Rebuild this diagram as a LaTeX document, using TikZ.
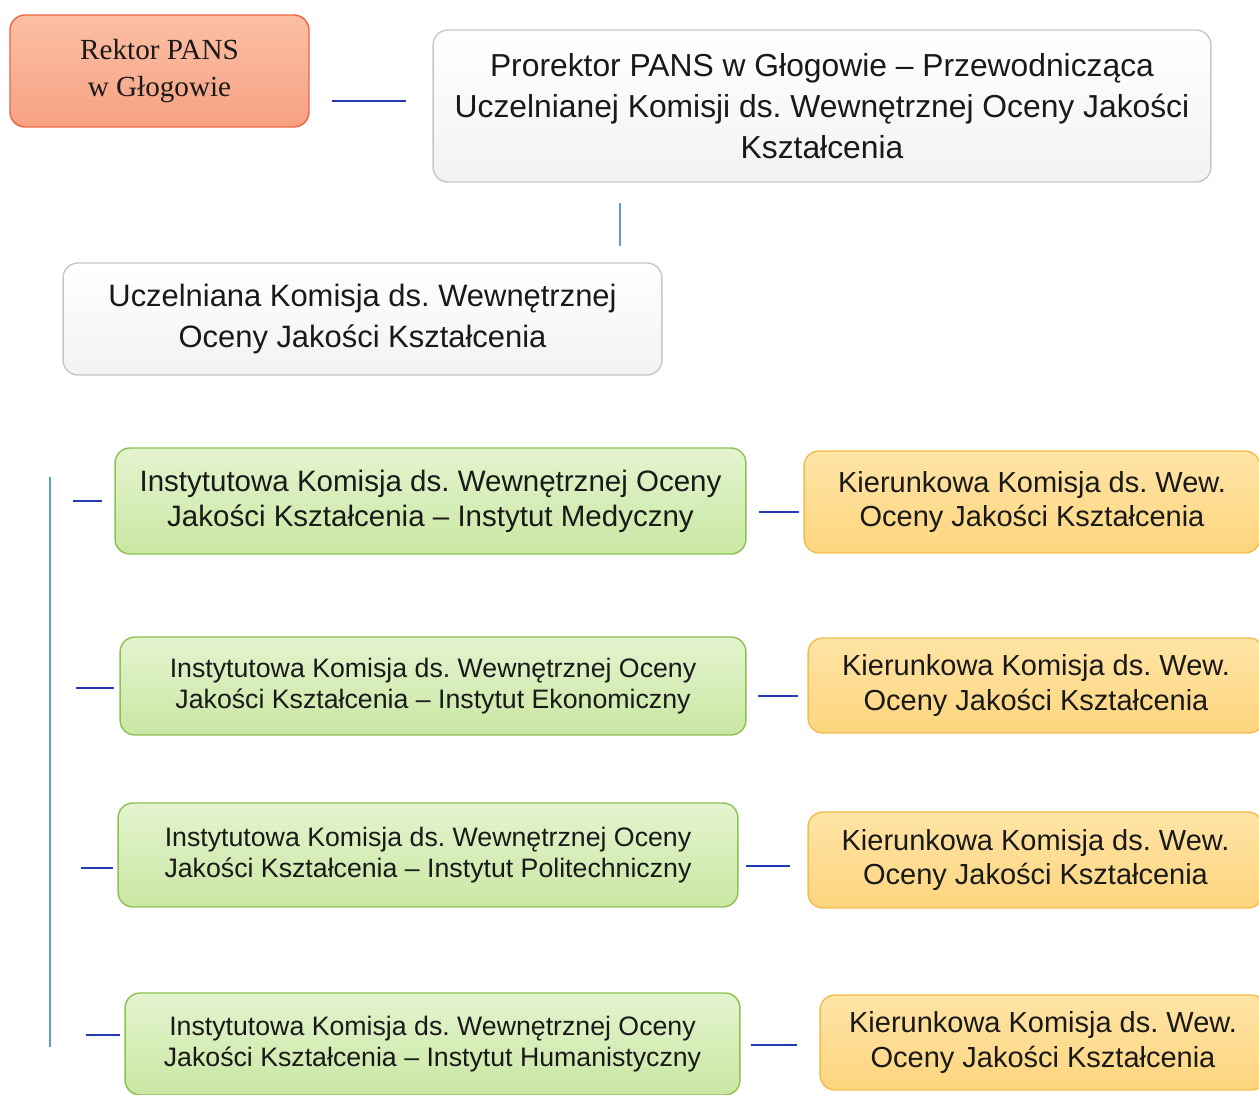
\documentclass[tikz,border=0pt]{standalone}
\usepackage{fontspec}
\setmainfont{Liberation Sans}
\newfontfamily\rektorfont{Liberation Serif}
\frenchspacing
\definecolor{rektorline}{HTML}{E8663F}
\definecolor{rektortop}{HTML}{FBBFA5}
\definecolor{rektorbot}{HTML}{F7A182}
\definecolor{instline}{HTML}{8CC152}
\definecolor{insttop}{HTML}{E4F4CF}
\definecolor{instbot}{HTML}{C9E7A3}
\definecolor{kierline}{HTML}{F4BC4C}
\definecolor{kiertop}{HTML}{FFE4A6}
\definecolor{kierbot}{HTML}{FDD57E}
\definecolor{darkblue}{HTML}{2438B4}
\definecolor{lightblue}{HTML}{5B9BD5}
\begin{document}
\begin{tikzpicture}[x=0.02cm,y=-0.02cm,
    box/.style={draw,rounded corners=0.3cm,line width=0.8pt,align=center,inner sep=0pt,text=black!90},
    graybox/.style={box,draw=black!22,top color=white,bottom color=black!5},
    redbox/.style={box,draw=rektorline,top color=rektortop,bottom color=rektorbot},
    greenbox/.style={box,draw=instline,top color=insttop,bottom color=instbot},
    orangebox/.style={box,draw=kierline,top color=kiertop,bottom color=kierbot},
    bigtext/.style={font={\fontsize{18.1}{23.2}\selectfont}},
    insttext/.style={font={\fontsize{15.2}{17.6}\selectfont}},
    kiertext/.style={font={\fontsize{16.5}{19.5}\selectfont}},
    hline/.style={draw=darkblue,line width=1.5pt},
    vline/.style={draw=lightblue,line width=1.5pt}]
  \useasboundingbox (0,0) rectangle (1259,1095);
  \node[redbox,minimum width=5.98cm,minimum height=2.24cm,
    font={\rektorfont\fontsize{16.6}{21.5}\selectfont}] (rektor) at (159.5,71)
    {Rektor PANS\\w Głogowie};
  \node[graybox,bigtext,minimum width=15.56cm,minimum height=3.04cm] (prorektor) at (822,106)
    {Prorektor PANS w Głogowie – Przewodnicząca\\Uczelnianej Komisji ds. Wewnętrznej Oceny Jakości\\Kształcenia};
  \node[graybox,minimum width=11.98cm,minimum height=2.24cm,
    font={\fontsize{17.6}{23.2}\selectfont}] (uczelniana) at (362.5,319)
    {Uczelniana Komisja ds. Wewnętrznej\\Oceny Jakości Kształcenia};
  \node[greenbox,minimum width=12.62cm,minimum height=2.12cm,
    font={\fontsize{16.8}{19.8}\selectfont}] (inst1) at (430.5,501)
    {Instytutowa Komisja ds. Wewnętrznej Oceny\\Jakości Kształcenia – Instytut Medyczny};
  \node[greenbox,insttext,minimum width=12.52cm,minimum height=1.96cm] (inst2) at (433,686)
    {Instytutowa Komisja ds. Wewnętrznej Oceny\\Jakości Kształcenia – Instytut Ekonomiczny};
  \node[greenbox,insttext,minimum width=12.4cm,minimum height=2.08cm] (inst3) at (428,855)
    {Instytutowa Komisja ds. Wewnętrznej Oceny\\Jakości Kształcenia – Instytut Politechniczny};
  \node[greenbox,insttext,minimum width=12.3cm,minimum height=2.04cm] (inst4) at (432.5,1044)
    {Instytutowa Komisja ds. Wewnętrznej Oceny\\Jakości Kształcenia – Instytut Humanistyczny};
  \node[orangebox,kiertext,minimum width=9.12cm,minimum height=2.04cm] (kier1) at (1032,502)
    {Kierunkowa Komisja ds. Wew.\\Oceny Jakości Kształcenia};
  \node[orangebox,kiertext,minimum width=9.12cm,minimum height=1.9cm] (kier2) at (1036,685.5)
    {Kierunkowa Komisja ds. Wew.\\Oceny Jakości Kształcenia};
  \node[orangebox,kiertext,minimum width=9.1cm,minimum height=1.92cm] (kier3) at (1035.5,860)
    {Kierunkowa Komisja ds. Wew.\\Oceny Jakości Kształcenia};
  \node[orangebox,kiertext,minimum width=8.92cm,minimum height=1.9cm] (kier4) at (1043,1042.5)
    {Kierunkowa Komisja ds. Wew.\\Oceny Jakości Kształcenia};
  \coordinate (spinetop) at (50,477);
  \coordinate (spinebot) at (50,1047);
  \begin{scope}[hline]
    \draw[shorten <=0.44cm,shorten >=0.52cm] ([yshift=-0.6cm]rektor.east) -- ([yshift=-0.6cm]rektor.east -| prorektor.west);
    \draw[shorten >=0.24cm] ([xshift=-0.82cm]inst1.west) -- (inst1.west);
    \draw[shorten >=0.1cm] ([xshift=-0.86cm,yshift=-0.04cm]inst2.west) -- ([yshift=-0.04cm]inst2.west);
    \draw[shorten >=0.08cm] ([xshift=-0.72cm,yshift=-0.26cm]inst3.west) -- ([yshift=-0.26cm]inst3.west);
    \draw[shorten >=0.08cm] ([xshift=-0.76cm,yshift=0.18cm]inst4.west) -- ([yshift=0.18cm]inst4.west);
    \draw[shorten <=0.24cm,shorten >=0.08cm] ([yshift=-0.22cm]inst1.east) -- ([yshift=-0.22cm]inst1.east -| kier1.west);
    \draw[shorten <=0.22cm,shorten >=0.18cm] ([yshift=-0.2cm]inst2.east) -- ([yshift=-0.2cm]inst2.east -| kier2.west);
    \draw[shorten <=0.14cm,shorten >=0.34cm] ([yshift=-0.22cm]inst3.east) -- ([yshift=-0.22cm]inst3.east -| kier3.west);
    \draw[shorten <=0.2cm,shorten >=0.44cm] ([yshift=-0.02cm]inst4.east) -- ([yshift=-0.02cm]inst4.east -| kier4.west);
  \end{scope}
  \begin{scope}[vline]
    \draw[shorten <=0.4cm,shorten >=0.32cm] ([xshift=-4.04cm]prorektor.south) -- ([xshift=-4.04cm]prorektor.south |- uczelniana.north);
    \draw (spinetop) -- (spinebot);
  \end{scope}
\end{tikzpicture}
\end{document}
